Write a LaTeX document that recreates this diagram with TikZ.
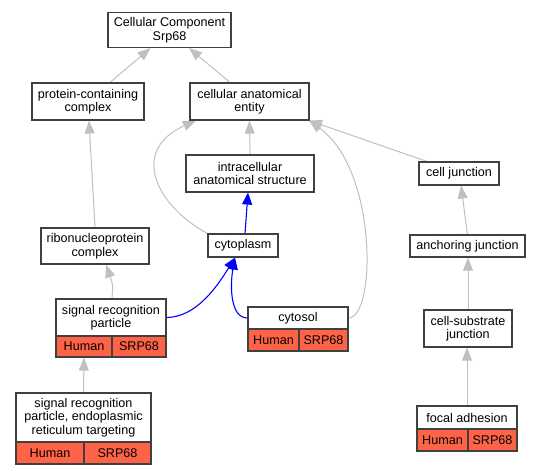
\documentclass[tikz,border=0pt]{standalone}
\usepackage{fontspec}
\setmainfont{Liberation Sans}
\usetikzlibrary{arrows.meta}
\definecolor{edgegray}{HTML}{C0C0C0}
\definecolor{tomatored}{HTML}{FF6347}
\definecolor{boxline}{HTML}{404040}
\pgfdeclarelayer{edges}
\pgfsetlayers{edges,main}
\tikzset{
  termbox/.style={draw=boxline, line width=1.1pt, fill=white, align=center, inner sep=0pt,
    font=\fontsize{12.6}{13.5}\selectfont},
  redcell/.style={termbox, fill=tomatored},
  isa/.style={draw=edgegray, line width=1pt, -{Triangle[length=13pt,width=10pt,fill=edgegray]}},
  partof/.style={draw=blue, line width=1.1pt, -{Triangle[length=12pt,width=10pt,fill=blue]}},
}
\begin{document}
\begin{tikzpicture}[x=1pt,y=-1pt]
\path[use as bounding box] (0,0) rectangle (541,475);
% nodes
\node[termbox, minimum width=123pt, minimum height=35pt] (cc) at (169.5,30) {Cellular Component\\Srp68};
\node[termbox, minimum width=112pt, minimum height=37pt] (pcc) at (88,101.5) {protein-containing\\complex};
\node[termbox, minimum width=119pt, minimum height=37pt] (cae) at (249.5,101.5) {cellular anatomical\\entity};
\node[termbox, minimum width=128pt, minimum height=37pt] (ias) at (250,173.5) {intracellular\\anatomical structure};
\node[termbox, minimum width=108pt, minimum height=36pt] (rnp) at (95,246) {ribonucleoprotein\\complex};
\node[termbox, minimum width=70pt, minimum height=23pt] (cyto) at (243,245.5) {cytoplasm};
\node[termbox, minimum width=80pt, minimum height=23pt] (cj) at (459,173.5) {cell junction};
\node[termbox, minimum width=115pt, minimum height=22pt] (aj) at (467.5,246) {anchoring junction};
\node[termbox, minimum width=88pt, minimum height=37pt] (csj) at (468,328.5) {cell-substrate\\junction};
% signal recognition particle
\node[termbox, minimum width=110pt, minimum height=37pt] (srp) at (111,317.5) {signal recognition\\particle};
\node[redcell, minimum width=56pt, minimum height=21pt] (srpH) at (84,346.5) {Human};
\node[redcell, minimum width=54pt, minimum height=21pt] (srpS) at (139,346.5) {SRP68};
% cytosol
\node[termbox, minimum width=100pt, minimum height=22pt] (cytosol) at (298,318) {cytosol};
\node[redcell, minimum width=51pt, minimum height=22pt] (cytH) at (273.5,340) {Human};
\node[redcell, minimum width=49pt, minimum height=22pt] (cytS) at (323.5,340) {SRP68};
% SRP ER targeting
\node[termbox, minimum width=135pt, minimum height=49pt] (srper) at (83.5,417.5) {signal recognition\\particle, endoplasmic\\reticulum targeting};
\node[redcell, minimum width=68pt, minimum height=22pt] (srperH) at (50,453) {Human};
\node[redcell, minimum width=67pt, minimum height=22pt] (srperS) at (117.5,453) {SRP68};
% focal adhesion
\node[termbox, minimum width=100pt, minimum height=23pt] (fa) at (467,417.5) {focal adhesion};
\node[redcell, minimum width=51pt, minimum height=22pt] (faH) at (442.5,440) {Human};
\node[redcell, minimum width=49pt, minimum height=22pt] (faS) at (492.5,440) {SRP68};
% edges
\begin{pgfonlayer}{edges}
\draw[isa] ([xshift=22pt]pcc.north) -- ([xshift=-19pt]cc.south);
\draw[isa] ([xshift=-19.5pt]cae.north) -- ([xshift=19.5pt]cc.south);
\draw[isa] (ias.north) -- (cae.south);
\draw[isa] (cyto.north west) .. controls (155,205) and (130,150) .. ([xshift=-53.5pt]cae.south);
\draw[isa] (rnp.north) -- ([xshift=1pt]pcc.south);
\draw[isa] ([xshift=1pt]srp.north) .. controls (113,285) .. ([xshift=11pt]rnp.south);
\draw[isa] (srper.north) -- (srpH.south);
\draw[isa] (cytosol.east) .. controls (376,318) and (378,170) .. ([xshift=-0.5pt]cae.south east);
\draw[isa] ([xshift=-32pt]cj.north) -- ([xshift=-0.5pt]cae.south east);
\draw[isa] (aj.north) -- ([xshift=2pt]cj.south);
\draw[isa] (csj.north) -- (csj.north |- aj.south);
\draw[isa] (fa.north) -- (fa.north |- csj.south);
\draw[partof] (srp.east) .. controls (195,317) and (215,290) .. ([xshift=-8pt]cyto.south);
\draw[partof] (cytosol.west) .. controls (230,318) and (230,285) .. ([xshift=-8pt]cyto.south);
\draw[partof] ([xshift=2pt]cyto.north) -- ([xshift=-2pt]ias.south);
\end{pgfonlayer}
\end{tikzpicture}
\end{document}
